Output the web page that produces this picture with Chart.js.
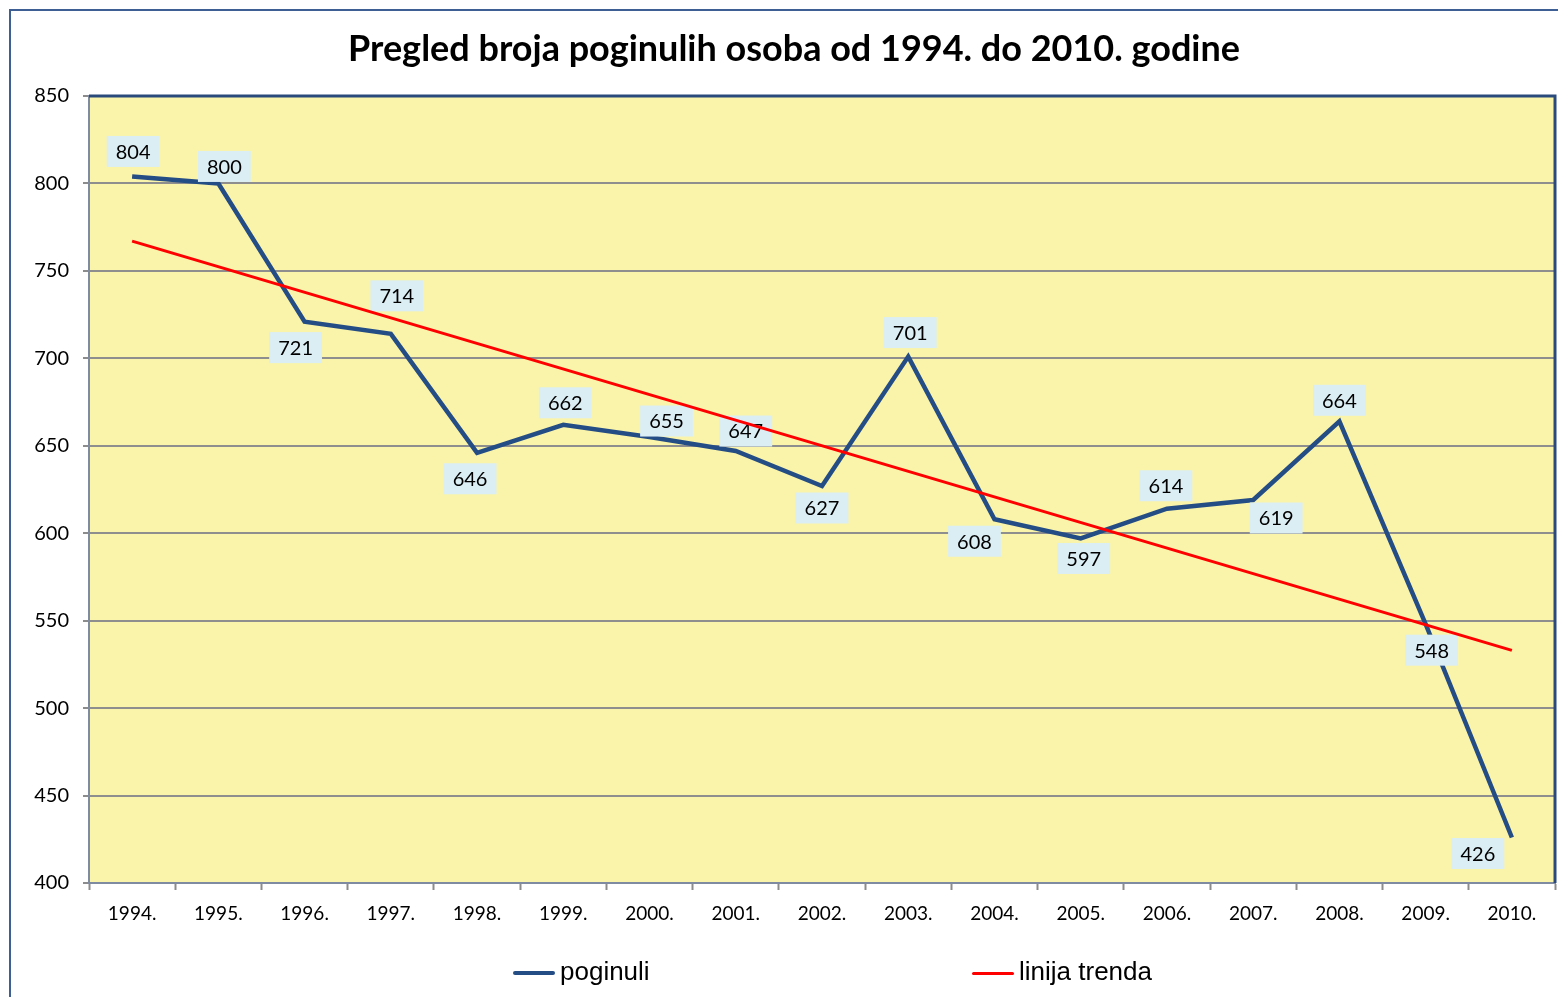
<!DOCTYPE html>
<html>
<head>
<meta charset="utf-8">
<script src="https://cdn.jsdelivr.net/npm/chart.js@4.4.0/dist/chart.umd.min.js"></script>
<style>
html, body { margin: 0; padding: 0; background: #fff; overflow: hidden; }
#wrap { position: relative; width: 1558px; height: 997px; }
#frame { position: absolute; left: 9px; top: 9px; width: 1700px; height: 1200px;
         border-left: 2px solid #3d5f94; border-top: 2px solid #3d5f94; }
canvas { position: absolute; left: 0; top: 0; }
.leg { position: absolute; top: 956px; font-family: 'Liberation Sans', Arial, sans-serif;
       font-size: 26px; color: #000; line-height: 30px; white-space: nowrap; }
.leg i { display: inline-block; width: 42px; height: 4px; vertical-align: middle;
         margin-right: 5px; border-radius: 2px; }
</style>
</head>
<body>
<div id="wrap">
  <div id="frame"></div>
  <canvas id="chart" width="1558" height="997"></canvas>
  <div class="leg" style="left:513px"><i style="background:#254d85"></i>poginuli</div>
  <div class="leg" style="left:972px"><i style="background:#ff0000;height:3px"></i>linija trenda</div>
</div>
<script>
// --- Data ---
const years = ['1994.', '1995.', '1996.', '1997.', '1998.', '1999.', '2000.', '2001.', '2002.',
               '2003.', '2004.', '2005.', '2006.', '2007.', '2008.', '2009.', '2010.'];
const poginuli = [804, 800, 721, 714, 646, 662, 655, 647, 627, 701, 608, 597, 614, 619, 664, 548, 426];
// trend line: only the two ends
const trend = [767, null, null, null, null, null, null, null, null, null, null, null, null, null, null, null, 533];
const yTicks = [400, 450, 500, 550, 600, 650, 700, 750, 800, 850];

// where each value label sits relative to its point [dx, dy] (px)
const labelOffset = [[1, -25], [6, -17], [-9, 26], [6, -38], [-7, 26], [2, -22], [17, -16], [10, -20], [0, 22],
                     [2, -24], [-20, 22], [3, 20], [-1, -23], [23, 18], [0, -21], [6, 26], [-34, 16]];

const FONT = 'Lato, "Open Sans", sans-serif';

// --- Plugins ---
const plotBg = {
    id: 'plotBg',
    beforeDraw(chart) {
        const a = chart.chartArea, c = chart.ctx;
        c.save();
        c.fillStyle = '#faf4aa';
        c.fillRect(a.left, a.top, a.right - a.left, a.bottom - a.top);
        c.restore();
    },
    afterDraw(chart) {
        const a = chart.chartArea, c = chart.ctx;
        c.save();
        c.strokeStyle = '#2a4a7c'; c.lineWidth = 3;
        c.beginPath();
        c.moveTo(a.left, a.top); c.lineTo(a.right, a.top); c.lineTo(a.right, a.bottom);
        c.stroke();
        c.restore();
    }
};

const valueLabels = {
    id: 'valueLabels',
    afterDatasetDraw(chart, args) {
        if (args.index !== 0) return;
        const c = chart.ctx;
        c.save();
        c.font = '20px ' + FONT;
        c.textAlign = 'center'; c.textBaseline = 'middle';
        args.meta.data.forEach((pt, i) => {
            const txt = String(poginuli[i]);
            const w = c.measureText(txt).width + 18, h = 31;
            const cx = pt.x + labelOffset[i][0];
            const cy = pt.y + labelOffset[i][1];
            c.fillStyle = '#dbeef4';
            c.fillRect(cx - w / 2, cy - h / 2, w, h);
            c.fillStyle = '#000';
            c.fillText(txt, cx, cy + 1);
        });
        c.restore();
    }
};

// --- Chart ---
new Chart(document.getElementById('chart'), {
    type: 'line',
    data: {
        labels: years,
        datasets: [
            { label: 'poginuli', data: poginuli, borderColor: '#254d85', borderWidth: 4.5,
              pointRadius: 0, tension: 0, order: 2 },
            { label: 'linija trenda', data: trend, borderColor: '#ff0000', borderWidth: 3,
              pointRadius: 0, spanGaps: true, order: 1 }
        ]
    },
    options: {
        responsive: false, animation: false, devicePixelRatio: 1,
        layout: { padding: { left: 33, right: 3, top: 0, bottom: 0 } },
        plugins: {
            title: { display: true, text: 'Pregled broja poginulih osoba od 1994. do 2010. godine',
                     color: '#000', font: { family: FONT, size: 36, weight: 'bold', lineHeight: 1 },
                     padding: { top: 31, bottom: 29 } },
            legend: { display: false },
            tooltip: { enabled: false }
        },
        scales: {
            x: {
                offset: true,
                grid: { offset: true, drawOnChartArea: false, tickLength: 7, tickColor: '#8c8c8c', tickWidth: 2 },
                border: { color: '#7f8ba0', width: 2 },
                ticks: { color: '#000', font: { family: FONT, size: 19 }, padding: 12, maxRotation: 0 },
                afterFit: s => { s.height = 114; }
            },
            y: {
                min: 400, max: 850,
                afterBuildTicks: s => { s.ticks = yTicks.map(v => ({ value: v })); },
                grid: { color: '#8e8e8e', lineWidth: 2, tickLength: 6, tickColor: '#8c8c8c' },
                border: { color: '#7f8ba0', width: 2 },
                ticks: { color: '#000', font: { family: FONT, size: 20 }, padding: 14 },
                afterFit: s => { s.width = 56; }
            }
        }
    },
    plugins: [plotBg, valueLabels]
});
</script>
</body>
</html>
